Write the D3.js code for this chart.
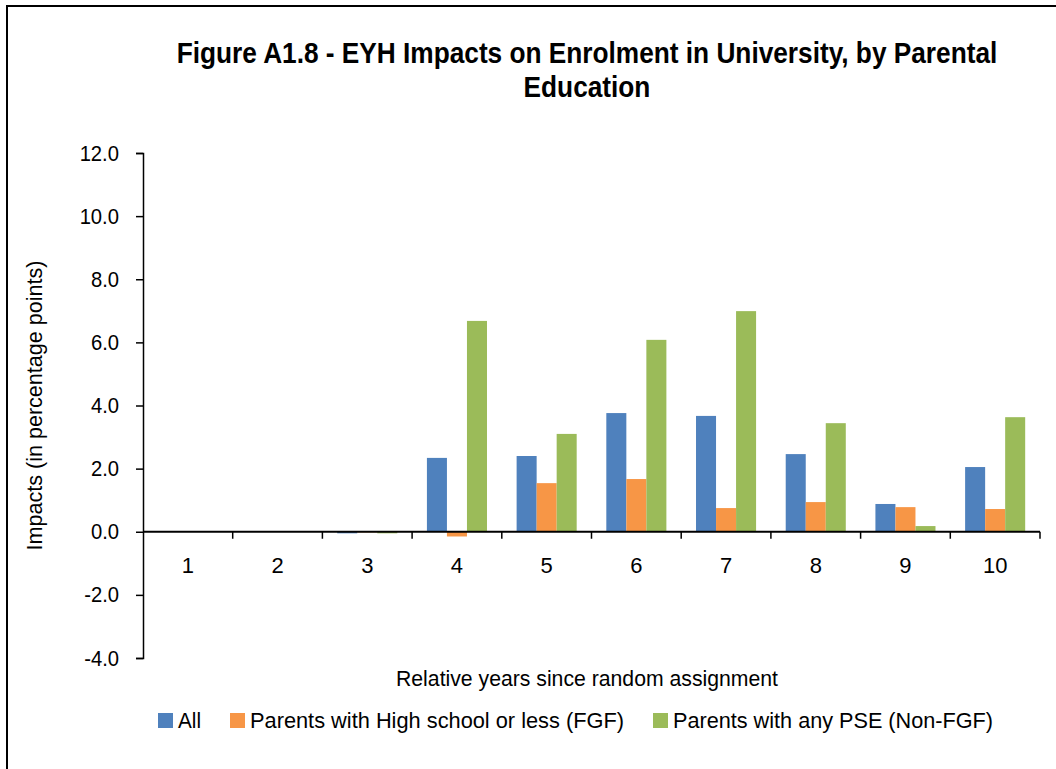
<!DOCTYPE html>
<html>
<head>
<meta charset="utf-8">
<script src="https://cdn.jsdelivr.net/npm/d3@7"></script>
<style>
  body { margin: 0; background: #fff; }
  svg { display: block; font-family: "Liberation Sans Narrow", "Arial Narrow", "Liberation Sans", sans-serif; }
</style>
</head>
<body>
<div id="chart"></div>
<script>
const width = 1056;
const height = 769;

const years = ["1", "2", "3", "4", "5", "6", "7", "8", "9", "10"];
const seriesNames = ["All", "Parents with High school or less (FGF)", "Parents with any PSE (Non-FGF)"];
const allValues = [0, 0, -0.05, 2.34, 2.40, 3.76, 3.67, 2.46, 0.88, 2.05];
const fgfValues = [0, 0, -0.02, -0.15, 1.54, 1.67, 0.75, 0.94, 0.78, 0.72];
const nonFgfValues = [0, 0, -0.05, 6.68, 3.10, 6.08, 6.99, 3.44, 0.18, 3.63];
const yTicks = [-4, -2, 0, 2, 4, 6, 8, 10, 12];

const colors = ["#4f81bd", "#f79646", "#9bbb59"];
const seriesValues = [allValues, fgfValues, nonFgfValues];

const margin = { left: 143, right: 16, top: 153, bottom: 111 };

const svg = d3.select("#chart")
  .append("svg")
  .attr("width", width)
  .attr("height", height);

// outer frame (runs off the right and bottom edges)
svg.append("rect")
  .attr("x", 7)
  .attr("y", 6)
  .attr("width", width + 20)
  .attr("height", height + 20)
  .attr("fill", "none")
  .attr("stroke", "#000")
  .attr("stroke-width", 2);

const x0 = d3.scaleBand()
  .domain(years)
  .range([margin.left, width - margin.right]);

const x1 = d3.scaleBand()
  .domain(d3.range(seriesNames.length))
  .range([0, x0.bandwidth()])
  .paddingOuter(0.74);

const y = d3.scaleLinear()
  .domain([-4, 12])
  .range([height - margin.bottom, margin.top]);

// bars
const groups = svg.append("g")
  .selectAll("g")
  .data(years)
  .join("g")
  .attr("transform", d => `translate(${x0(d)},0)`);

groups.selectAll("rect")
  .data((d, i) => seriesValues.map((vals, s) => ({ s, v: vals[i] })))
  .join("rect")
  .attr("x", d => x1(d.s))
  .attr("width", x1.bandwidth())
  .attr("y", d => y(Math.max(0, d.v)))
  .attr("height", d => Math.abs(y(d.v) - y(0)))
  .attr("fill", d => colors[d.s]);

// y axis
const fmt = d => d3.format(".1f")(d).replace("−", "-");
const yAxis = svg.append("g")
  .attr("transform", `translate(${margin.left},0)`)
  .call(d3.axisLeft(y).tickValues(yTicks).tickFormat(fmt).tickSize(7).tickPadding(17));
yAxis.select(".domain").attr("stroke-width", 1.5);
yAxis.selectAll(".tick line").attr("stroke-width", 1.5);
yAxis.selectAll("text")
  .attr("font-size", 22)
  .attr("fill", "#000")
  .attr("font-family", null)
  .attr("transform", "scale(0.92,1)")
  .attr("x", -24 / 0.92);

// x axis line at zero with ticks between categories
const xAxis = svg.append("g");
xAxis.append("line")
  .attr("x1", x0.range()[0])
  .attr("x2", x0.range()[1])
  .attr("y1", y(0))
  .attr("y2", y(0))
  .attr("stroke", "#000")
  .attr("stroke-width", 2);

xAxis.selectAll(".xtick")
  .data(years.slice(1).concat(["end"]))
  .join("line")
  .attr("class", "xtick")
  .attr("x1", d => d === "end" ? x0.range()[1] : x0(d))
  .attr("x2", d => d === "end" ? x0.range()[1] : x0(d))
  .attr("y1", y(0))
  .attr("y2", y(0) + 7)
  .attr("stroke", "#000")
  .attr("stroke-width", 1.5);

xAxis.selectAll(".xlabel")
  .data(years)
  .join("text")
  .attr("class", "xlabel")
  .attr("x", d => x0(d) + x0.bandwidth() / 2)
  .attr("y", y(0) + 41)
  .attr("text-anchor", "middle")
  .attr("font-size", 22)
  .text(d => d);

// title, squeezed horizontally to look like a narrow face
const titleScale = 0.905;
const title = svg.append("text")
  .attr("transform", `scale(${titleScale},1)`)
  .attr("text-anchor", "middle")
  .attr("font-size", 29)
  .attr("font-weight", "bold");
title.append("tspan").attr("x", 587 / titleScale).attr("y", 63)
  .text("Figure A1.8 - EYH Impacts on Enrolment in University, by Parental");
title.append("tspan").attr("x", 587 / titleScale).attr("y", 97)
  .text("Education");

svg.append("text")
  .attr("transform", `translate(42,${(y(12) + y(-4)) / 2}) rotate(-90)`)
  .attr("text-anchor", "middle")
  .attr("font-size", 22)
  .attr("textLength", 290)
  .attr("lengthAdjust", "spacingAndGlyphs")
  .text("Impacts (in percentage points)");

svg.append("text")
  .attr("x", 587)
  .attr("y", 686)
  .attr("text-anchor", "middle")
  .attr("font-size", 22)
  .attr("textLength", 382)
  .attr("lengthAdjust", "spacingAndGlyphs")
  .text("Relative years since random assignment");

// legend
const legendX = [158, 230, 653];
const legendW = [23, 374, 320];
const legend = svg.append("g");
seriesNames.forEach((name, i) => {
  const g = legend.append("g").attr("transform", `translate(${legendX[i]},713)`);
  g.append("rect")
    .attr("width", 15)
    .attr("height", 15)
    .attr("fill", colors[i]);
  g.append("text")
    .attr("x", 20)
    .attr("y", 15)
    .attr("font-size", 22)
    .attr("textLength", legendW[i])
    .attr("lengthAdjust", "spacingAndGlyphs")
    .text(name);
});
</script>
</body>
</html>
